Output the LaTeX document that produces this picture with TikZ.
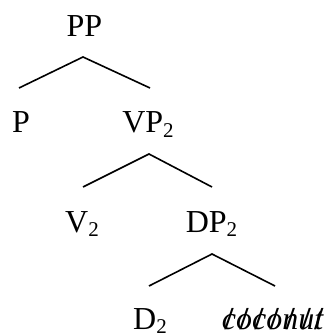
\documentclass[tikz,border=0pt]{standalone}
\usepackage{fontspec}
\setmainfont{Liberation Serif}
\newcommand{\sub}[1]{{\fontsize{21}{21}\selectfont\smash{\raisebox{-4.5pt}{#1}}}}
\newcommand{\strk}[1]{\ooalign{#1\cr\hidewidth{\upshape\bfseries/}\hidewidth\cr}}
\begin{document}
\begin{tikzpicture}[x=1pt,y=-1pt,
  lab/.style={anchor=base,inner sep=0pt,font=\fontsize{32}{32}\selectfont},
  branch/.style={line width=1.6pt}]
\useasboundingbox (0,0) rectangle (334,336);
\node[lab] (pp) at (84.5,37) {PP};
\node[lab] (p) at (21,133) {P};
\node[lab] (vp) at (148,133) {VP\sub{2}};
\node[lab] (v) at (82,232) {V\sub{2}};
\node[lab] (dp) at (211.5,232) {DP\sub{2}};
\node[lab] (d) at (150,329) {D\sub{2}};
\node[lab] (coc) at (272.5,329) {\itshape\strk{c}\strk{o}\strk{c}\strk{o}\strk{n}\strk{u}\strk{t}};
\coordinate (a1) at (83,57);
\coordinate (l1) at (19,88);
\coordinate (r1) at (150,88);
\coordinate (a2) at (149,154);
\coordinate (l2) at (83,187);
\coordinate (r2) at (212,187);
\coordinate (a3) at (212,254);
\coordinate (l3) at (149,286);
\coordinate (r3) at (275,286);
\draw[branch] (l1) -- (a1) -- (r1);
\draw[branch] (l2) -- (a2) -- (r2);
\draw[branch] (l3) -- (a3) -- (r3);
\end{tikzpicture}
\end{document}
